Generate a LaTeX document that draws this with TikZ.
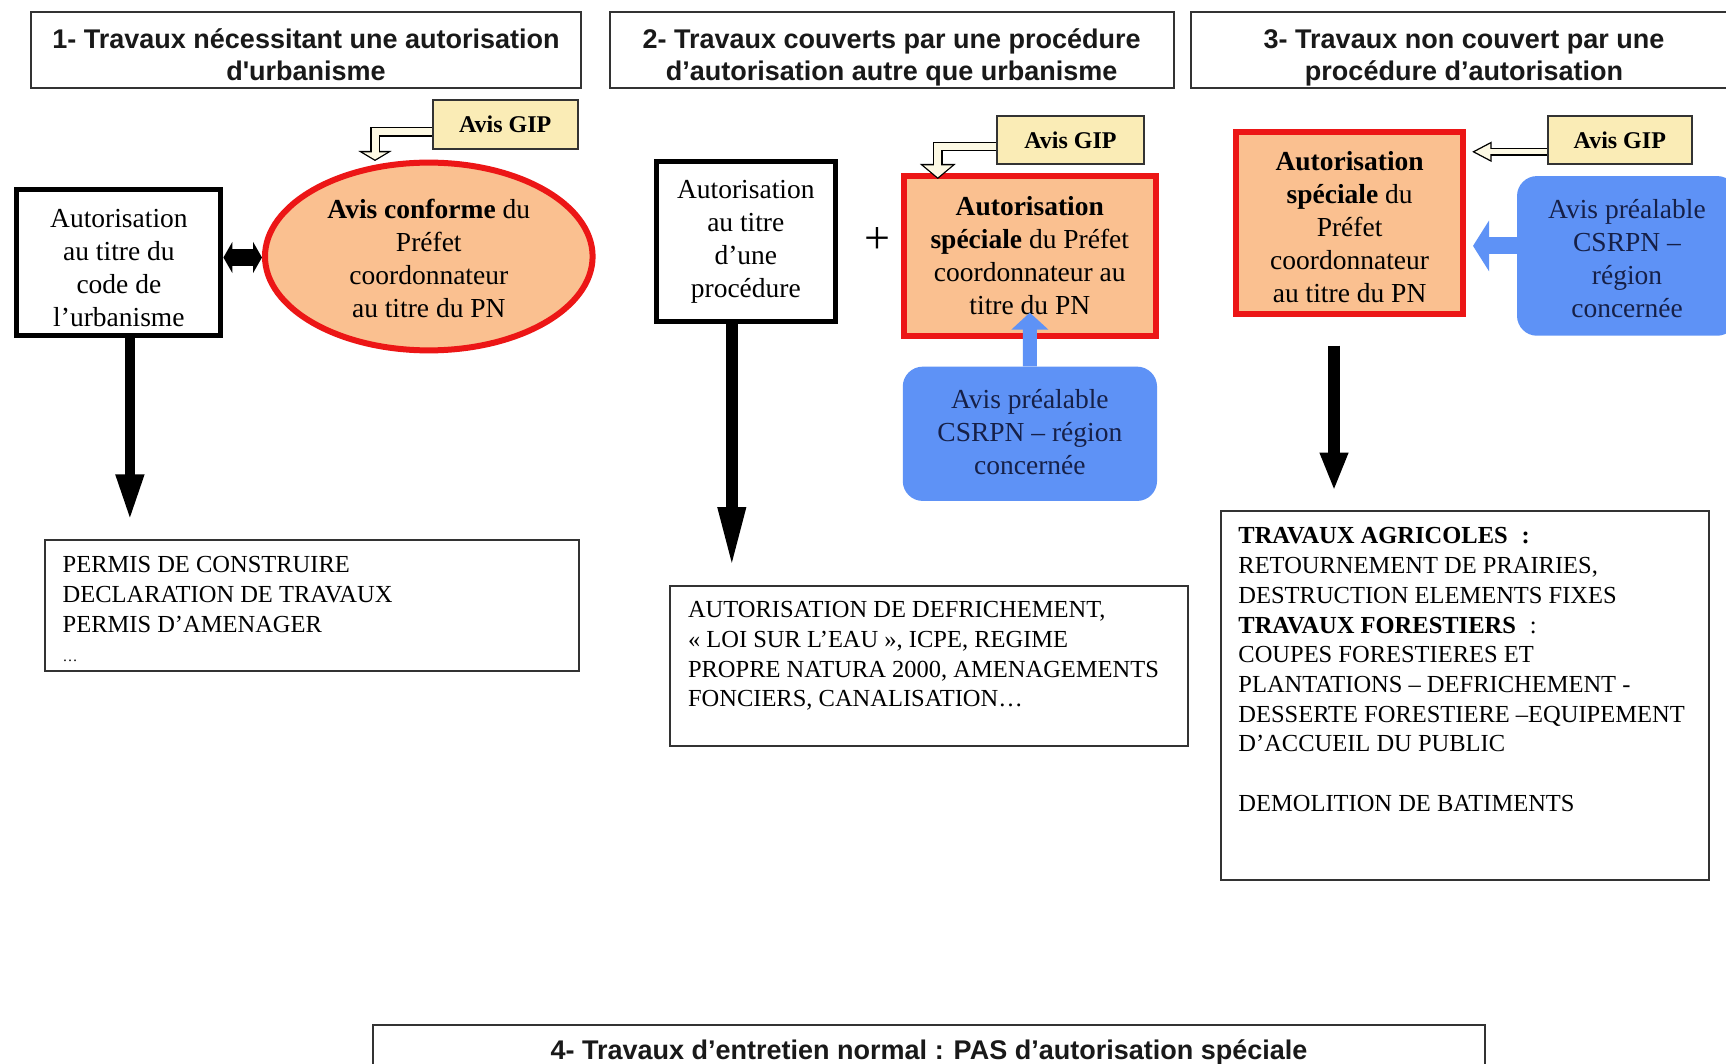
\documentclass[tikz,border=0pt]{standalone}
\usepackage{fontspec}
\setmainfont{Liberation Serif}
\setsansfont{Liberation Sans}
\usetikzlibrary{shapes.geometric,arrows.meta,calc}
\definecolor{redb}{RGB}{236,22,22}
\definecolor{peach}{RGB}{250,192,144}
\definecolor{bluebox}{RGB}{94,146,246}
\definecolor{navy}{RGB}{22,32,72}
\definecolor{gipfill}{RGB}{250,236,182}
\definecolor{cream}{RGB}{253,249,228}
\newcommand\hdrfont{\sffamily\bfseries\fontsize{27}{32}\selectfont}
\newcommand\midfont{\fontsize{27.5}{33}\selectfont}
\newcommand\listfont{\fontsize{24.5}{29.7}\selectfont}
\newcommand\hdrbox[2]{\begin{minipage}[c][76pt][t]{#1}\vspace*{12.2pt}\centering\rule{0pt}{24pt}#2\end{minipage}}
\begin{document}
\begin{tikzpicture}[x=1pt,y=-1pt,
  hdr/.style={draw=black!80, line width=2pt, fill=white, font=\hdrfont, inner sep=0pt, text=black!90},
  blk/.style={draw=black, line width=5pt, fill=white, font=\midfont, align=center, inner sep=0pt},
  redbox/.style={draw=redb, line width=6pt, fill=peach, font=\midfont, align=center, inner sep=0pt},
  bluebx/.style={fill=bluebox, rounded corners=20pt, font=\midfont, text=navy, align=center, inner sep=0pt},
  gip/.style={draw=black!80, line width=2pt, fill=gipfill, font=\fontsize{24}{28}\selectfont\bfseries, inner sep=0pt},
  listbox/.style={draw=black!80, line width=2pt, fill=white, font=\listfont, inner sep=0pt, outer sep=0pt, anchor=north west},
  blockarrow/.style={draw=black, line width=#1},
  bluearrow/.style={draw=bluebox, line width=#1},
  hollowout/.style={draw=black, line width=9.6pt},
  hollowin/.style={draw=cream, line width=7pt}
]
\useasboundingbox (0,0) rectangle (1726,1064);
\clip (0,0) rectangle (1726,1064);
\fill[white] (0,0) rectangle (1726,1064);

% headers
\node[hdr] (h1) at (306,50.1) {\hdrbox{550.6pt}{1- Travaux nécessitant une autorisation\\d\textquotesingle urbanisme}};
\node[hdr] (h2) at (891.7,50.1) {\hdrbox{564pt}{2- Travaux couverts par une procédure\\d’autorisation autre que urbanisme}};
\node[hdr] (h3) at (1464,50.1) {\hdrbox{546pt}{3- Travaux non couvert par une\\procédure d’autorisation}};

% column 1
\node[gip, minimum width=145.5pt, minimum height=48.7pt] (g1) at (505.3,124.4) {Avis GIP};
\node[ellipse, draw=redb, line width=6pt, fill=peach, minimum width=327.6pt, minimum height=187.8pt, inner sep=0pt, font=\midfont, align=center] (ell) at (428.8,256.5) {\rule{0pt}{23.4pt}\textbf{Avis conforme} du\\Préfet\\coordonnateur\\au titre du PN};
\node[blk, minimum width=204pt, minimum height=146pt] (b1) at (118.9,262.5) {\rule{0pt}{29.2pt}Autorisation\\au titre du\\code de\\l’urbanisme};
\node[listbox] (p1) at (45,540.4) {\begin{minipage}[c][131pt][t]{534pt}\vspace*{16pt}\leftskip=17.7pt
PERMIS DE CONSTRUIRE\\
DECLARATION DE TRAVAUX\\
PERMIS D’AMENAGER\\
{\fontsize{15}{15}\selectfont …}\end{minipage}};

% column 2
\node[blk, minimum width=178.8pt, minimum height=160pt] (b2) at (745.8,242) {Autorisation\\au titre\\d’une\\procédure};
\node[font=\fontsize{46}{46}\selectfont, inner sep=0pt] (plus) at (877.3,241) {+};
\node[gip, minimum width=147pt, minimum height=48.5pt] (g2) at (1070.5,139.8) {Avis GIP};
\node[redbox, minimum width=252.5pt, minimum height=160.2pt] (r2) at (1029.8,255.9) {\textbf{Autorisation}\\\textbf{spéciale} du Préfet\\coordonnateur au\\titre du PN};
\node[bluebx, minimum width=254.3pt, minimum height=134.3pt] (u2) at (1029.9,433.8) {Avis préalable\\CSRPN – région\\concernée\rule[-4pt]{0pt}{0pt}};
\node[listbox] (p2) at (670.3,585.5) {\begin{minipage}[c][160.9pt][t]{517.6pt}\vspace*{16pt}\leftskip=17.7pt
AUTORISATION DE DEFRICHEMENT,\\
« LOI SUR L’EAU », ICPE, REGIME\\
PROPRE NATURA 2000, AMENAGEMENTS\\
FONCIERS, CANALISATION…\end{minipage}};

% column 3
\node[gip, minimum width=144.4pt, minimum height=48.5pt] (g3) at (1619.8,139.8) {Avis GIP};
\node[redbox, minimum width=227.4pt, minimum height=182.2pt] (r3) at (1349.6,222.9) {\rule{0pt}{27.5pt}\textbf{Autorisation}\\\textbf{spéciale} du\\Préfet\\coordonnateur\\au titre du PN};
\node[bluebx, minimum width=220pt, minimum height=159.7pt] (u3) at (1627,255.9) {\rule{0pt}{25.4pt}Avis préalable\\CSRPN –\\région\\concernée};
\node[listbox] (p3) at (1220.7,510.7) {\begin{minipage}[c][368.9pt][t]{487.8pt}\vspace*{17pt}\leftskip=17.7pt
\textbf{TRAVAUX AGRICOLES}\hspace{14pt}\textbf{:}\\
RETOURNEMENT DE PRAIRIES,\\
DESTRUCTION ELEMENTS FIXES\\
\textbf{TRAVAUX FORESTIERS}\hspace{14pt}:\\
COUPES FORESTIERES ET\\
PLANTATIONS – DEFRICHEMENT -\\
DESSERTE FORESTIERE –EQUIPEMENT\\
D’ACCUEIL DU PUBLIC\\[29.7pt]
DEMOLITION DE BATIMENTS\end{minipage}};

% bottom header
\node[hdr, align=center, minimum width=1112pt, minimum height=55.2pt] (h4) at (929,1052.3) {4- Travaux d’entretien normal : PAS d’autorisation spéciale};

% connectors: column 1
\coordinate (da) at ($(b1.east)+(0,-5)$);
\draw[blockarrow=17pt, {Triangle[width=31pt,length=9pt]}-{Triangle[width=31pt,length=9pt]}] (da) -- (da -| ell.west);
\coordinate (d1s) at ($(b1.south)+(11,0)$);
\draw[blockarrow=10pt, -{Triangle[width=26pt,length=46pt]}] (d1s) -- (d1s |- {$(p1.north)+(0,-20)$});
\coordinate (g1s) at ($(g1.west)+(0,7.6)$);
\coordinate (g1t) at ($(ell.north)+(-53.8,1.4)$);
\draw[hollowout, -{Triangle[width=33pt,length=10pt]}] (g1s) -| (g1t);
\draw[hollowin, -{Triangle[width=23.7pt,length=7.2pt]}, shorten >=1.5pt] (g1s) -| (g1t);

% connectors: column 2
\coordinate (d2s) at ($(b2.south)+(-14,0)$);
\draw[blockarrow=12pt, -{Triangle[width=25pt,length=63pt]}] (d2s) -- (d2s |- {$(p2.north)+(0,-15.5)$});
\draw[bluearrow=14pt, -{Triangle[width=36pt,length=17pt]}] (u2.north) -- ($(r2.south)+(0,-26.4)$);
\coordinate (g2s) at ($(g2.west)+(0,6.7)$);
\coordinate (g2t) at ($(r2.north)+(-92,6.2)$);
\draw[hollowout, -{Triangle[width=35pt,length=15pt]}] (g2s) -| (g2t);
\draw[hollowin, -{Triangle[width=28pt,length=12pt]}, shorten >=1.7pt] (g2s) -| (g2t);

% connectors: column 3
\coordinate (d3s) at ($(r3.south)+(-15.6,28.6)$);
\draw[blockarrow=12pt, -{Triangle[width=26pt,length=38.5pt]}] (d3s) -- (d3s |- {$(p3.north)+(0,-19.7)$});
\coordinate (b3s) at ($(u3.west)+(0,-10)$);
\draw[bluearrow=17pt, -{Triangle[width=50pt,length=16pt]}] (b3s) -- (b3s -| {$(r3.east)+(6.7,0)$});
\coordinate (g3s) at ($(g3.west)+(0,12)$);
\draw[hollowout, line width=7.6pt, -{Triangle[width=19pt,length=20pt]}] (g3s) -- (g3s -| {$(r3.east)+(5.4,0)$});
\draw[hollowin, line width=5pt, -{Triangle[width=14.9pt,length=15.7pt]}, shorten >=3pt] (g3s) -- (g3s -| {$(r3.east)+(5.4,0)$});
\end{tikzpicture}
\end{document}
